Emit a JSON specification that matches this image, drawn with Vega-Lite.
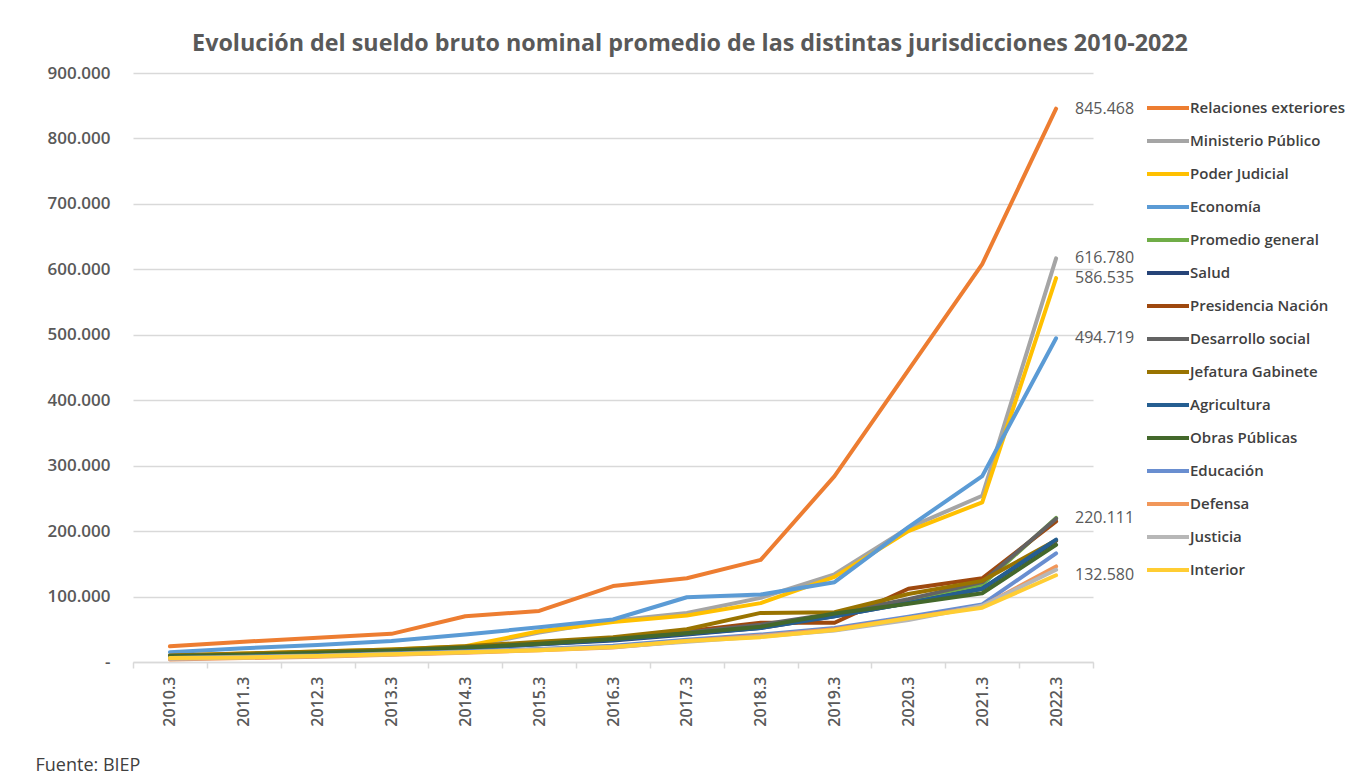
{
  "$schema": "https://vega.github.io/schema/vega-lite/v6.json",
  "width": 960,
  "height": 589,
  "autosize": {"type": "none"},
  "padding": {"left": 133, "top": 73, "right": 267, "bottom": 118},
  "background": "white",
  "config": {
    "font": "Open Sans",
    "view": {"stroke": null},
    "locale": {"number": {"decimal": ",", "thousands": ".", "grouping": [3], "currency": ["$", ""]}}
  },
  "title": {
    "text": "Evolución del sueldo bruto nominal promedio de las distintas jurisdicciones 2010-2022",
    "font": "Open Sans",
    "fontSize": 23.3,
    "fontWeight": "bold",
    "color": "#595959",
    "anchor": "middle",
    "dx": 77,
    "offset": 8
  },
  "data": {
    "values": [
      {"year": "2010.3", "serie": "Relaciones exteriores", "value": 24000},
      {"year": "2011.3", "serie": "Relaciones exteriores", "value": 31000},
      {"year": "2012.3", "serie": "Relaciones exteriores", "value": 37000},
      {"year": "2013.3", "serie": "Relaciones exteriores", "value": 43000},
      {"year": "2014.3", "serie": "Relaciones exteriores", "value": 70000},
      {"year": "2015.3", "serie": "Relaciones exteriores", "value": 78000},
      {"year": "2016.3", "serie": "Relaciones exteriores", "value": 116000},
      {"year": "2017.3", "serie": "Relaciones exteriores", "value": 128000},
      {"year": "2018.3", "serie": "Relaciones exteriores", "value": 156000},
      {"year": "2019.3", "serie": "Relaciones exteriores", "value": 284000},
      {"year": "2020.3", "serie": "Relaciones exteriores", "value": 446000},
      {"year": "2021.3", "serie": "Relaciones exteriores", "value": 608000},
      {"year": "2022.3", "serie": "Relaciones exteriores", "value": 845468},

      {"year": "2010.3", "serie": "Ministerio Público", "value": 9000},
      {"year": "2011.3", "serie": "Ministerio Público", "value": 12000},
      {"year": "2012.3", "serie": "Ministerio Público", "value": 15000},
      {"year": "2013.3", "serie": "Ministerio Público", "value": 18000},
      {"year": "2014.3", "serie": "Ministerio Público", "value": 23000},
      {"year": "2015.3", "serie": "Ministerio Público", "value": 45000},
      {"year": "2016.3", "serie": "Ministerio Público", "value": 63000},
      {"year": "2017.3", "serie": "Ministerio Público", "value": 75000},
      {"year": "2018.3", "serie": "Ministerio Público", "value": 98000},
      {"year": "2019.3", "serie": "Ministerio Público", "value": 134000},
      {"year": "2020.3", "serie": "Ministerio Público", "value": 205000},
      {"year": "2021.3", "serie": "Ministerio Público", "value": 254000},
      {"year": "2022.3", "serie": "Ministerio Público", "value": 616780},

      {"year": "2010.3", "serie": "Poder Judicial", "value": 10000},
      {"year": "2011.3", "serie": "Poder Judicial", "value": 13000},
      {"year": "2012.3", "serie": "Poder Judicial", "value": 16000},
      {"year": "2013.3", "serie": "Poder Judicial", "value": 19000},
      {"year": "2014.3", "serie": "Poder Judicial", "value": 24000},
      {"year": "2015.3", "serie": "Poder Judicial", "value": 47000},
      {"year": "2016.3", "serie": "Poder Judicial", "value": 61000},
      {"year": "2017.3", "serie": "Poder Judicial", "value": 71000},
      {"year": "2018.3", "serie": "Poder Judicial", "value": 90000},
      {"year": "2019.3", "serie": "Poder Judicial", "value": 130000},
      {"year": "2020.3", "serie": "Poder Judicial", "value": 200000},
      {"year": "2021.3", "serie": "Poder Judicial", "value": 244000},
      {"year": "2022.3", "serie": "Poder Judicial", "value": 586535},

      {"year": "2010.3", "serie": "Economía", "value": 15000},
      {"year": "2011.3", "serie": "Economía", "value": 21000},
      {"year": "2012.3", "serie": "Economía", "value": 26000},
      {"year": "2013.3", "serie": "Economía", "value": 32000},
      {"year": "2014.3", "serie": "Economía", "value": 42000},
      {"year": "2015.3", "serie": "Economía", "value": 53000},
      {"year": "2016.3", "serie": "Economía", "value": 65000},
      {"year": "2017.3", "serie": "Economía", "value": 99000},
      {"year": "2018.3", "serie": "Economía", "value": 103000},
      {"year": "2019.3", "serie": "Economía", "value": 122000},
      {"year": "2020.3", "serie": "Economía", "value": 206000},
      {"year": "2021.3", "serie": "Economía", "value": 284000},
      {"year": "2022.3", "serie": "Economía", "value": 494719},

      {"year": "2010.3", "serie": "Promedio general", "value": 9000},
      {"year": "2011.3", "serie": "Promedio general", "value": 11000},
      {"year": "2012.3", "serie": "Promedio general", "value": 14000},
      {"year": "2013.3", "serie": "Promedio general", "value": 17000},
      {"year": "2014.3", "serie": "Promedio general", "value": 22000},
      {"year": "2015.3", "serie": "Promedio general", "value": 28000},
      {"year": "2016.3", "serie": "Promedio general", "value": 35000},
      {"year": "2017.3", "serie": "Promedio general", "value": 44000},
      {"year": "2018.3", "serie": "Promedio general", "value": 55000},
      {"year": "2019.3", "serie": "Promedio general", "value": 73000},
      {"year": "2020.3", "serie": "Promedio general", "value": 93000},
      {"year": "2021.3", "serie": "Promedio general", "value": 118000},
      {"year": "2022.3", "serie": "Promedio general", "value": 220111},

      {"year": "2010.3", "serie": "Salud", "value": 8000},
      {"year": "2011.3", "serie": "Salud", "value": 10000},
      {"year": "2012.3", "serie": "Salud", "value": 13000},
      {"year": "2013.3", "serie": "Salud", "value": 16000},
      {"year": "2014.3", "serie": "Salud", "value": 21000},
      {"year": "2015.3", "serie": "Salud", "value": 27000},
      {"year": "2016.3", "serie": "Salud", "value": 33000},
      {"year": "2017.3", "serie": "Salud", "value": 42000},
      {"year": "2018.3", "serie": "Salud", "value": 52000},
      {"year": "2019.3", "serie": "Salud", "value": 70000},
      {"year": "2020.3", "serie": "Salud", "value": 90000},
      {"year": "2021.3", "serie": "Salud", "value": 112000},
      {"year": "2022.3", "serie": "Salud", "value": 185000},

      {"year": "2010.3", "serie": "Presidencia Nación", "value": 9000},
      {"year": "2011.3", "serie": "Presidencia Nación", "value": 12000},
      {"year": "2012.3", "serie": "Presidencia Nación", "value": 15000},
      {"year": "2013.3", "serie": "Presidencia Nación", "value": 18000},
      {"year": "2014.3", "serie": "Presidencia Nación", "value": 23000},
      {"year": "2015.3", "serie": "Presidencia Nación", "value": 29000},
      {"year": "2016.3", "serie": "Presidencia Nación", "value": 36000},
      {"year": "2017.3", "serie": "Presidencia Nación", "value": 47000},
      {"year": "2018.3", "serie": "Presidencia Nación", "value": 60000},
      {"year": "2019.3", "serie": "Presidencia Nación", "value": 60000},
      {"year": "2020.3", "serie": "Presidencia Nación", "value": 112000},
      {"year": "2021.3", "serie": "Presidencia Nación", "value": 128000},
      {"year": "2022.3", "serie": "Presidencia Nación", "value": 215000},

      {"year": "2010.3", "serie": "Desarrollo social", "value": 9000},
      {"year": "2011.3", "serie": "Desarrollo social", "value": 11000},
      {"year": "2012.3", "serie": "Desarrollo social", "value": 14000},
      {"year": "2013.3", "serie": "Desarrollo social", "value": 17000},
      {"year": "2014.3", "serie": "Desarrollo social", "value": 22000},
      {"year": "2015.3", "serie": "Desarrollo social", "value": 28000},
      {"year": "2016.3", "serie": "Desarrollo social", "value": 35000},
      {"year": "2017.3", "serie": "Desarrollo social", "value": 45000},
      {"year": "2018.3", "serie": "Desarrollo social", "value": 57000},
      {"year": "2019.3", "serie": "Desarrollo social", "value": 74000},
      {"year": "2020.3", "serie": "Desarrollo social", "value": 96000},
      {"year": "2021.3", "serie": "Desarrollo social", "value": 122000},
      {"year": "2022.3", "serie": "Desarrollo social", "value": 219000},

      {"year": "2010.3", "serie": "Jefatura Gabinete", "value": 10000},
      {"year": "2011.3", "serie": "Jefatura Gabinete", "value": 13000},
      {"year": "2012.3", "serie": "Jefatura Gabinete", "value": 16000},
      {"year": "2013.3", "serie": "Jefatura Gabinete", "value": 19000},
      {"year": "2014.3", "serie": "Jefatura Gabinete", "value": 24000},
      {"year": "2015.3", "serie": "Jefatura Gabinete", "value": 31000},
      {"year": "2016.3", "serie": "Jefatura Gabinete", "value": 38000},
      {"year": "2017.3", "serie": "Jefatura Gabinete", "value": 50000},
      {"year": "2018.3", "serie": "Jefatura Gabinete", "value": 75000},
      {"year": "2019.3", "serie": "Jefatura Gabinete", "value": 76000},
      {"year": "2020.3", "serie": "Jefatura Gabinete", "value": 104000},
      {"year": "2021.3", "serie": "Jefatura Gabinete", "value": 124000},
      {"year": "2022.3", "serie": "Jefatura Gabinete", "value": 186000},

      {"year": "2010.3", "serie": "Agricultura", "value": 8000},
      {"year": "2011.3", "serie": "Agricultura", "value": 10000},
      {"year": "2012.3", "serie": "Agricultura", "value": 13000},
      {"year": "2013.3", "serie": "Agricultura", "value": 16000},
      {"year": "2014.3", "serie": "Agricultura", "value": 21000},
      {"year": "2015.3", "serie": "Agricultura", "value": 27000},
      {"year": "2016.3", "serie": "Agricultura", "value": 34000},
      {"year": "2017.3", "serie": "Agricultura", "value": 43000},
      {"year": "2018.3", "serie": "Agricultura", "value": 52000},
      {"year": "2019.3", "serie": "Agricultura", "value": 70000},
      {"year": "2020.3", "serie": "Agricultura", "value": 90000},
      {"year": "2021.3", "serie": "Agricultura", "value": 112000},
      {"year": "2022.3", "serie": "Agricultura", "value": 187000},

      {"year": "2010.3", "serie": "Obras Públicas", "value": 9000},
      {"year": "2011.3", "serie": "Obras Públicas", "value": 11000},
      {"year": "2012.3", "serie": "Obras Públicas", "value": 14000},
      {"year": "2013.3", "serie": "Obras Públicas", "value": 17000},
      {"year": "2014.3", "serie": "Obras Públicas", "value": 22000},
      {"year": "2015.3", "serie": "Obras Públicas", "value": 28000},
      {"year": "2016.3", "serie": "Obras Públicas", "value": 35000},
      {"year": "2017.3", "serie": "Obras Públicas", "value": 44000},
      {"year": "2018.3", "serie": "Obras Públicas", "value": 54000},
      {"year": "2019.3", "serie": "Obras Públicas", "value": 74000},
      {"year": "2020.3", "serie": "Obras Públicas", "value": 89000},
      {"year": "2021.3", "serie": "Obras Públicas", "value": 105000},
      {"year": "2022.3", "serie": "Obras Públicas", "value": 179000},

      {"year": "2010.3", "serie": "Educación", "value": 6000},
      {"year": "2011.3", "serie": "Educación", "value": 8000},
      {"year": "2012.3", "serie": "Educación", "value": 10000},
      {"year": "2013.3", "serie": "Educación", "value": 13000},
      {"year": "2014.3", "serie": "Educación", "value": 16000},
      {"year": "2015.3", "serie": "Educación", "value": 20000},
      {"year": "2016.3", "serie": "Educación", "value": 25000},
      {"year": "2017.3", "serie": "Educación", "value": 34000},
      {"year": "2018.3", "serie": "Educación", "value": 42000},
      {"year": "2019.3", "serie": "Educación", "value": 52000},
      {"year": "2020.3", "serie": "Educación", "value": 69000},
      {"year": "2021.3", "serie": "Educación", "value": 88000},
      {"year": "2022.3", "serie": "Educación", "value": 166000},

      {"year": "2010.3", "serie": "Defensa", "value": 4000},
      {"year": "2011.3", "serie": "Defensa", "value": 6000},
      {"year": "2012.3", "serie": "Defensa", "value": 8000},
      {"year": "2013.3", "serie": "Defensa", "value": 11000},
      {"year": "2014.3", "serie": "Defensa", "value": 14000},
      {"year": "2015.3", "serie": "Defensa", "value": 18000},
      {"year": "2016.3", "serie": "Defensa", "value": 22000},
      {"year": "2017.3", "serie": "Defensa", "value": 32000},
      {"year": "2018.3", "serie": "Defensa", "value": 40000},
      {"year": "2019.3", "serie": "Defensa", "value": 50000},
      {"year": "2020.3", "serie": "Defensa", "value": 67000},
      {"year": "2021.3", "serie": "Defensa", "value": 85000},
      {"year": "2022.3", "serie": "Defensa", "value": 146000},

      {"year": "2010.3", "serie": "Justicia", "value": 5000},
      {"year": "2011.3", "serie": "Justicia", "value": 7000},
      {"year": "2012.3", "serie": "Justicia", "value": 9000},
      {"year": "2013.3", "serie": "Justicia", "value": 12000},
      {"year": "2014.3", "serie": "Justicia", "value": 15000},
      {"year": "2015.3", "serie": "Justicia", "value": 19000},
      {"year": "2016.3", "serie": "Justicia", "value": 23000},
      {"year": "2017.3", "serie": "Justicia", "value": 31000},
      {"year": "2018.3", "serie": "Justicia", "value": 39000},
      {"year": "2019.3", "serie": "Justicia", "value": 48000},
      {"year": "2020.3", "serie": "Justicia", "value": 64000},
      {"year": "2021.3", "serie": "Justicia", "value": 86000},
      {"year": "2022.3", "serie": "Justicia", "value": 141000},

      {"year": "2010.3", "serie": "Interior", "value": 6000},
      {"year": "2011.3", "serie": "Interior", "value": 7000},
      {"year": "2012.3", "serie": "Interior", "value": 9000},
      {"year": "2013.3", "serie": "Interior", "value": 12000},
      {"year": "2014.3", "serie": "Interior", "value": 15000},
      {"year": "2015.3", "serie": "Interior", "value": 18000},
      {"year": "2016.3", "serie": "Interior", "value": 23000},
      {"year": "2017.3", "serie": "Interior", "value": 32000},
      {"year": "2018.3", "serie": "Interior", "value": 38000},
      {"year": "2019.3", "serie": "Interior", "value": 49000},
      {"year": "2020.3", "serie": "Interior", "value": 67000},
      {"year": "2021.3", "serie": "Interior", "value": 83000},
      {"year": "2022.3", "serie": "Interior", "value": 132580}
    ]
  },
  "encoding": {
    "x": {
      "field": "year",
      "type": "ordinal",
      "sort": null,
      "scale": {"type": "band", "paddingInner": 0, "paddingOuter": 0},
      "axis": {
        "title": "Fuente: BIEP",
        "titleFont": "Open Sans",
        "titleFontSize": 18,
        "titleFontWeight": "normal",
        "titleColor": "#404040",
        "titleAnchor": "start",
        "titleAlign": "left",
        "titleBaseline": "middle",
        "titleX": -98,
        "titleY": 103,
        "labelAngle": -90,
        "labelFont": "Open Sans",
        "labelFontSize": 16,
        "labelFontWeight": 600,
        "labelColor": "#595959",
        "labelPadding": 8,
        "domainColor": "#d9d9d9",
        "domainWidth": 1.5,
        "tickColor": "#d9d9d9",
        "tickWidth": 1.5,
        "tickSize": 6,
        "tickBand": "extent",
        "grid": false
      }
    },
    "y": {
      "field": "value",
      "type": "quantitative",
      "scale": {"domain": [0, 900000], "nice": false},
      "axis": {
        "title": null,
        "values": [0, 100000, 200000, 300000, 400000, 500000, 600000, 700000, 800000, 900000],
        "labelExpr": "datum.value == 0 ? '-' : replace(format(datum.value, ',.0f'), ',', '.')",
        "labelFont": "Open Sans",
        "labelFontSize": 17,
        "labelFontWeight": 600,
        "labelColor": "#595959",
        "labelPadding": 23,
        "domain": false,
        "ticks": false,
        "grid": true,
        "gridColor": "#d9d9d9",
        "gridWidth": 1.5
      }
    }
  },
  "layer": [
    {
      "mark": {"type": "line", "strokeWidth": 4, "strokeJoin": "round", "strokeCap": "round"},
      "encoding": {
        "color": {
          "field": "serie",
          "type": "nominal",
          "scale": {
            "domain": ["Relaciones exteriores", "Ministerio Público", "Poder Judicial", "Economía", "Promedio general", "Salud", "Presidencia Nación", "Desarrollo social", "Jefatura Gabinete", "Agricultura", "Obras Públicas", "Educación", "Defensa", "Justicia", "Interior"],
            "range": ["#ED7D31", "#A5A5A5", "#FFC000", "#5B9BD5", "#70AD47", "#264478", "#9E480E", "#636363", "#997300", "#255E91", "#43682B", "#698ED0", "#F1975A", "#B7B7B7", "#FFCD33"]
          },
          "legend": {
            "title": null,
            "orient": "none",
            "legendX": 1012,
            "legendY": 12,
            "symbolType": "stroke",
            "symbolSize": 1764,
            "symbolStrokeWidth": 4,
            "rowPadding": 2,
            "labelOffset": -1,
            "labelFont": "Open Sans",
            "labelFontSize": 15,
            "labelFontWeight": 600,
            "labelColor": "#404040",
            "labelLimit": 250
          }
        }
      }
    },
    {
      "transform": [
        {"filter": {"field": "year", "equal": "2022.3"}},
        {"filter": {"field": "serie", "oneOf": ["Relaciones exteriores", "Ministerio Público", "Poder Judicial", "Economía", "Promedio general", "Interior"]}}
      ],
      "mark": {"type": "text", "align": "left", "baseline": "middle", "dx": 19, "font": "Open Sans", "fontSize": 16, "color": "#595959"},
      "encoding": {
        "text": {"field": "value", "type": "quantitative", "format": ",.0f"}
      }
    }
  ]
}
